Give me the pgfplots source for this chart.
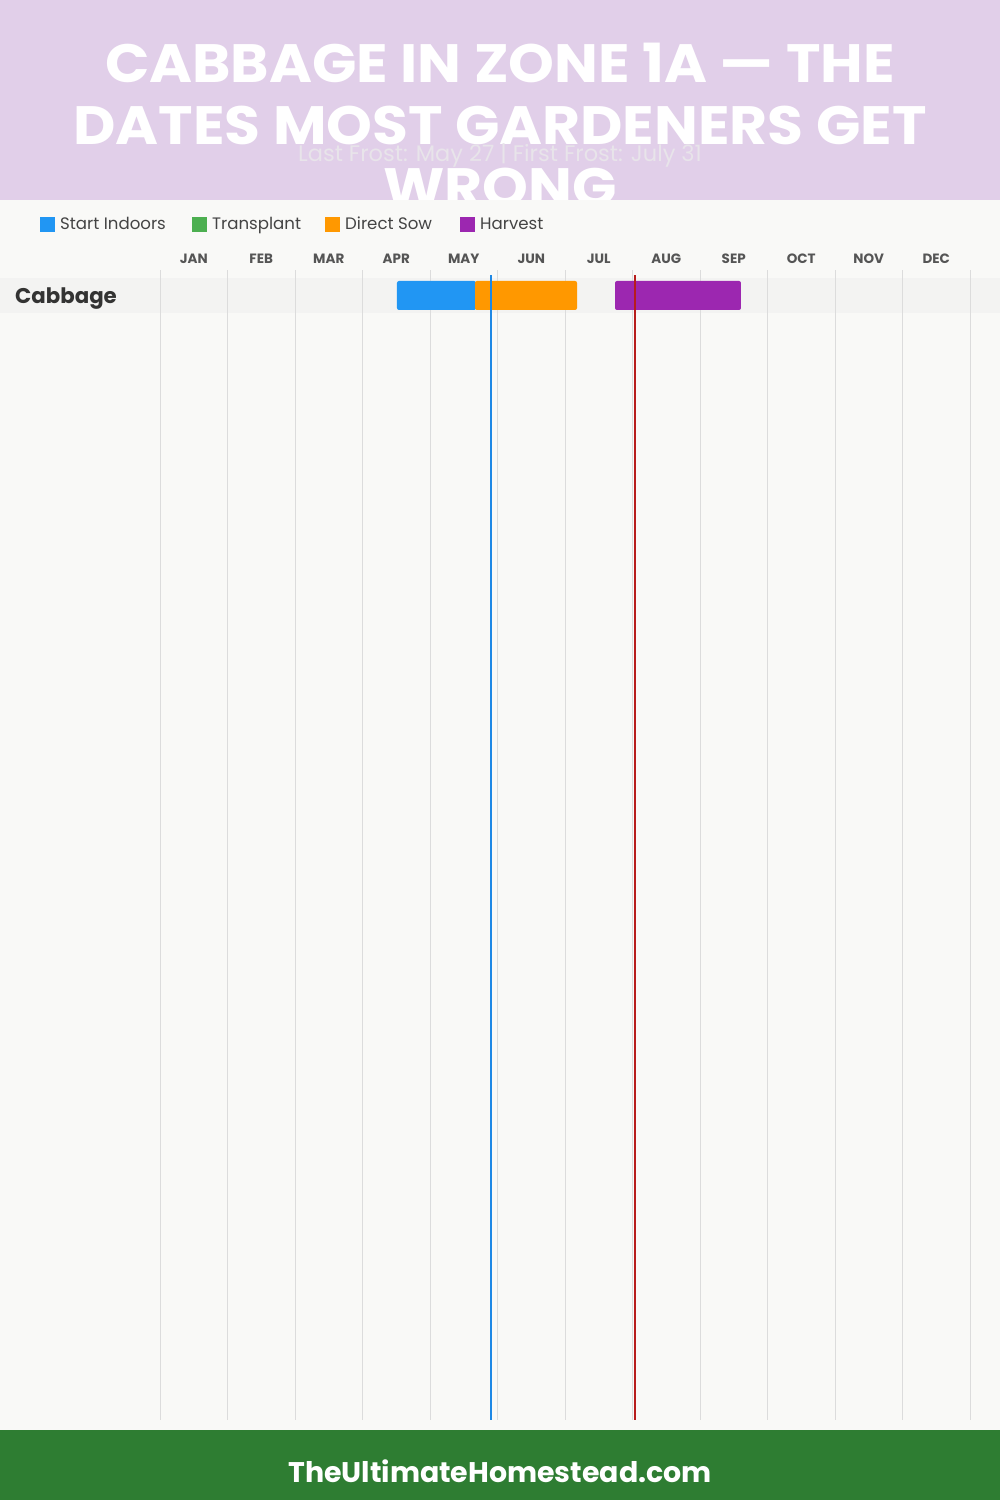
\documentclass[border=0pt]{standalone}
\usepackage{pgfplots}
\pgfplotsset{compat=1.18}
\usepackage{fontspec}
\setmainfont{Poppins}
\definecolor{hdr}{HTML}{E1CFE9}
\definecolor{bg}{HTML}{F9F9F7}
\definecolor{band}{HTML}{F3F3F2}
\definecolor{foot}{HTML}{2E7D32}
\definecolor{cIndoor}{HTML}{2196F3}
\definecolor{cTrans}{HTML}{4CAF50}
\definecolor{cSow}{HTML}{FF9800}
\definecolor{cHarv}{HTML}{9C27B0}
\definecolor{cLast}{HTML}{1E88E5}
\definecolor{cFirst}{HTML}{B71C1C}
\definecolor{gridc}{HTML}{DCDCDC}
\definecolor{lbl}{HTML}{555555}
\definecolor{legt}{HTML}{444444}
\definecolor{rowt}{HTML}{333333}
\definecolor{subt}{HTML}{E8E4EA}
\begin{document}
\begin{tikzpicture}[x=1pt,y=1pt]
% page
\fill[bg] (0,0) rectangle (1000,1500);
\fill[hdr] (0,1300) rectangle (1000,1500);
\node[text=white,xscale=1.08,font=\fontsize{54}{54}\selectfont\bfseries] at (500,1437) {CABBAGE IN ZONE 1A — THE};
\node[text=white,xscale=1.08,font=\fontsize{54}{54}\selectfont\bfseries] at (500,1375) {DATES MOST GARDENERS GET};
\node[text=white,xscale=1.08,font=\fontsize{54}{54}\selectfont\bfseries] at (500,1313) {WRONG};
\fill[bg] (0,70) rectangle (1000,1300);
\node[text=subt,font=\fontsize{22.5}{22.5}\selectfont] at (500,1345) {Last Frost: May 27 | First Frost: July 31};
\fill[foot] (0,0) rectangle (1000,70);
\node[text=white,font=\fontsize{28.4}{28.4}\selectfont\bfseries] at (500,29) {TheUltimateHomestead.com};
% legend
\fill[cIndoor] (40,1268) rectangle (55,1283);
\node[anchor=base west,inner sep=0,text=legt,font=\fontsize{16.6}{16.6}\selectfont] at (60,1270) {Start Indoors};
\fill[cTrans] (192,1268) rectangle (207,1283);
\node[anchor=base west,inner sep=0,text=legt,font=\fontsize{16.6}{16.6}\selectfont] at (212,1270) {Transplant};
\fill[cSow] (325,1268) rectangle (340,1283);
\node[anchor=base west,inner sep=0,text=legt,font=\fontsize{16.6}{16.6}\selectfont] at (345,1270) {Direct Sow};
\fill[cHarv] (460,1268) rectangle (475,1283);
\node[anchor=base west,inner sep=0,text=legt,font=\fontsize{16.6}{16.6}\selectfont] at (480,1270) {Harvest};
% row band
\fill[band] (0,1187) rectangle (1000,1222);
\node[anchor=base west,inner sep=0,text=rowt,font=\fontsize{21.3}{21.3}\selectfont\bfseries] at (15,1196.5) {Cabbage};
\begin{axis}[
  at={(160pt,80pt)}, anchor=south west,
  scale only axis, width=810pt, height=1150pt,
  xmin=0, xmax=12, ymin=0, ymax=1150,
  clip=false,
  axis line style={draw=none},
  major tick length=0pt, minor tick length=0pt,
  xtick={0.5,1.5,...,11.5},
  xticklabels={JAN,FEB,MAR,APR,MAY,JUN,JUL,AUG,SEP,OCT,NOV,DEC},
  minor xtick={0,1,...,12},
  xminorgrids=true,
  minor grid style={gridc,line width=0.9pt},
  xticklabel pos=upper,
  xticklabel style={anchor=center,yshift=11pt,text=lbl,font=\fontsize{13.5}{13.5}\selectfont\bfseries},
  ytick=\empty,
]
% Start Indoors
\addplot[fill=cIndoor,draw=none,rounded corners=2pt] coordinates {(3.511,1110) (4.681,1110) (4.681,1139) (3.511,1139)} --cycle;
% Direct Sow
\addplot[fill=cSow,draw=none,rounded corners=2pt] coordinates {(4.667,1110) (6.178,1110) (6.178,1139) (4.667,1139)} --cycle;
% Harvest
\addplot[fill=cHarv,draw=none,rounded corners=2pt] coordinates {(6.741,1110) (8.607,1110) (8.607,1139) (6.741,1139)} --cycle;
% frost lines
\addplot[cLast,line width=2pt] coordinates {(4.899,0) (4.899,1145)};
\addplot[cFirst,line width=2pt] coordinates {(7.032,0) (7.032,1145)};
\end{axis}
\end{tikzpicture}
\end{document}
